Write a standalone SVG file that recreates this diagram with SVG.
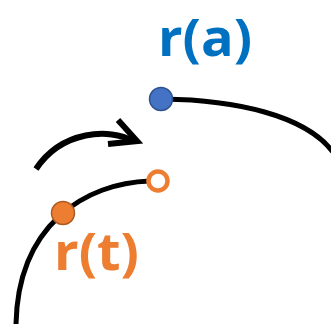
<svg xmlns="http://www.w3.org/2000/svg" width="331" height="324" viewBox="0 0 331 324">
<style>
.curve{fill:none;stroke:#000;stroke-width:5;stroke-linecap:butt}
.arrow{fill:none;stroke:#000;stroke-width:6;stroke-linecap:butt}
.lbl{font-family:"Open Sans","Liberation Sans",sans-serif;font-weight:bold;font-size:52px}
</style>
<rect width="331" height="324" fill="#fff"/>
<g id="connectors">
<path class="curve" d="M163 99 C235 100 305 115 333 152"/>
<path class="curve" d="M150 181 C85 183 18 225 16 324"/>
<path class="arrow" d="M36 169 C62 130 110 128 133 141"/>
<path class="arrow" d="M118 120 L137 141 L108 144" stroke-linejoin="miter"/>
</g>
<g id="ra">
<circle cx="161" cy="99" r="11.5" fill="#4472C4" stroke="#2F528F" stroke-width="1.5"/>
<text class="lbl" x="158" y="56" fill="#0070C0" textLength="94" lengthAdjust="spacingAndGlyphs">r(a)</text>
</g>
<g id="rt">
<circle cx="158" cy="181" r="9.5" fill="#fff" stroke="#ED7D31" stroke-width="4.5"/>
<circle cx="63" cy="213" r="11.5" fill="#ED7D31" stroke="#AE5A21" stroke-width="1.5"/>
<text class="lbl" x="54" y="270" fill="#ED7D31" textLength="85" lengthAdjust="spacingAndGlyphs">r(t)</text>
</g>
</svg>
